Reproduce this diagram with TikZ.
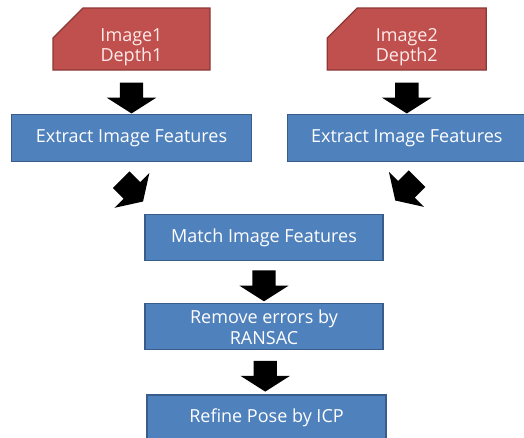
\documentclass[tikz,border=0pt]{standalone}
\usepackage{fontspec}
\setmainfont{Open Sans}
\usepackage{xcolor}
\usetikzlibrary{positioning, shapes.misc, shapes.arrows, calc}

\definecolor{boxblue}{HTML}{4F81BD}
\definecolor{boxblueline}{HTML}{385D8A}
\definecolor{cardred}{HTML}{C0504D}
\definecolor{cardredline}{HTML}{8C3836}

\tikzset{
    stepbox/.style={draw=boxblueline, line width=1.3pt, fill=boxblue, rectangle,
        minimum width=238pt, minimum height=46pt, text=white, align=center,
        inner sep=2pt, font=\fontsize{18}{21}\selectfont},
    datacard/.style={draw=cardredline, line width=1.3pt, fill=cardred,
        chamfered rectangle, chamfered rectangle corners=north west,
        chamfered rectangle xsep=30pt, chamfered rectangle ysep=14pt,
        inner xsep=40pt, inner ysep=16pt,
        minimum width=157pt, minimum height=62pt},
    cardtext/.style={text=red!8, align=center, yshift=-8pt,
        font=\fontsize{18}{20.5}\selectfont},
    blockarrow/.style={single arrow, fill=black, draw=none, inner sep=11.5pt,
        minimum height=30pt, single arrow head extend=13pt,
        single arrow tip angle=115},
    downarrow/.style={blockarrow, shape border rotate=270}
}

\begin{document}
\begin{tikzpicture}[x=1pt, y=-1pt]
        \clip (0,0) rectangle (524,437);
        \useasboundingbox (0,0) rectangle (524,437);

        % Input data
        \node[datacard, label={[cardtext]center:Image1\\Depth1}] (card1) at (131.5,39) {};
        \node[datacard, right=116pt of card1, minimum width=159pt,
            label={[cardtext]center:Image2\\Depth2}] (card2) {};

        % Feature extraction
        \node[stepbox, below=43pt of card1, minimum width=240pt, minimum height=47pt] (extract1) {Extract Image Features};
        \node[stepbox, below=43pt of card2, minimum height=47pt] (extract2) {Extract Image Features};

        % Matching and pose
        \node[stepbox] (match) at (264,237.5) {Match Image Features};
        \node[stepbox, below=42pt of match] (ransac) {Remove errors by\\RANSAC};
        \node[stepbox, below=44pt of ransac, xshift=2.5pt, minimum width=239pt] (icp) {Refine Pose by ICP};

        % Block arrows
        \node[downarrow] (arr1) at ($(card1.south)!0.55!(extract1.north)$) {};
        \node[downarrow] (arr2) at ($(card2.south)!0.55!(extract2.north)$) {};
        \node[blockarrow, rotate=-45] (arr3) at ($(extract1.south)+(-2,26)$) {};
        \node[blockarrow, rotate=-135] (arr4) at ($(extract2.south)+(2,25)$) {};
        \node[downarrow] (arr5) at ($(match.south)!0.5!(ransac.north)$) {};
        \node[downarrow] (arr6) at ($(ransac.south)!0.5!(icp.north)$) {};
    \end{tikzpicture}
\end{document}
